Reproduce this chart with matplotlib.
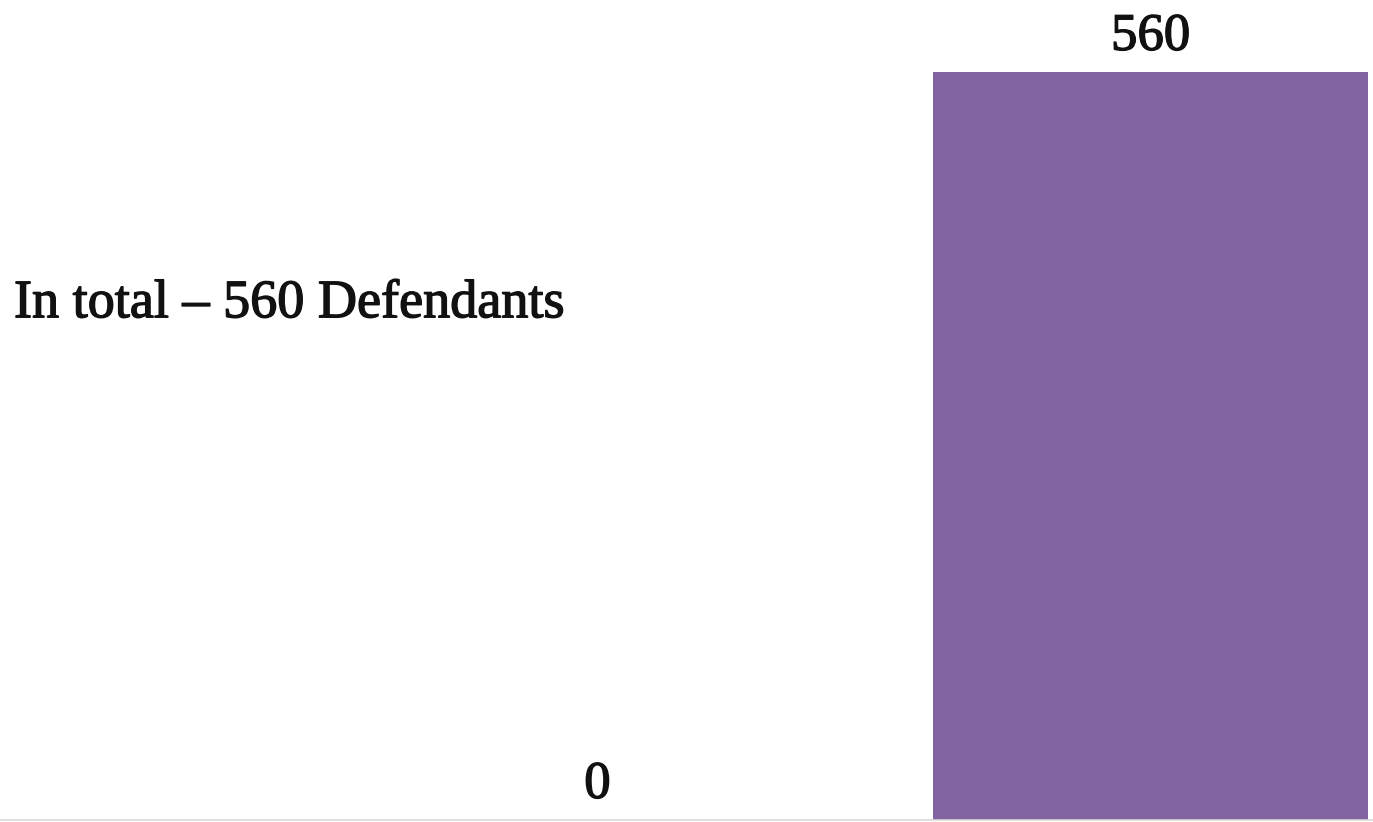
import matplotlib.pyplot as plt
import matplotlib.patheffects as pe

categories = ['', 'In total']
values = [0, 560]
label_text = 'In total \u2013 560 Defendants'
bar_color = '#8064a2'

plt.rcParams['font.family'] = ['Liberation Serif', 'DejaVu Serif']

# thin outline to make the regular serif look a bit heavier, like the original
heavy = [pe.withStroke(linewidth=1.0, foreground='#111111')]

fig = plt.figure(figsize=(13.73, 8.22), dpi=100)
ax = fig.add_axes([0, 2 / 822, 1, 820 / 822])

bars = ax.bar(range(len(values)), values, width=0.787, color=bar_color)
texts = ax.bar_label(bars, labels=[str(v) for v in values], padding=8,
                     fontsize=38, color='#111111')
for t in texts:
    t.set_path_effects(heavy)

ax.set_xlim(-1.08, 1.402)
ax.set_ylim(0, 560 * 820 / 748)

ax.set_xticks([])
ax.set_yticks([])
for side in ['top', 'left', 'right']:
    ax.spines[side].set_visible(False)
ax.spines['bottom'].set_color('#d9d9d9')
ax.spines['bottom'].set_linewidth(1.2)

ax.text(14 / 1373, 1 - 304 / 820, label_text, transform=ax.transAxes,
        ha='left', va='center', fontsize=39, color='#111111',
        path_effects=heavy)

fig.savefig('out.png', dpi=100)
